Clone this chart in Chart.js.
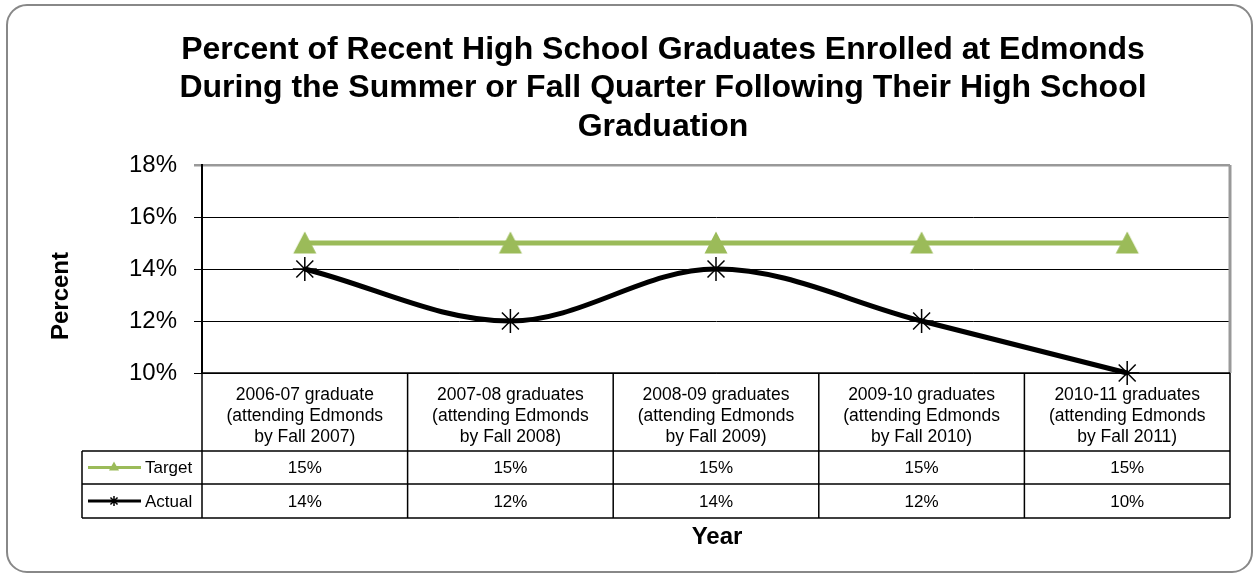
<!DOCTYPE html>
<html>
<head>
<meta charset="utf-8">
<script src="https://cdn.jsdelivr.net/npm/chart.js@4.4.1/dist/chart.umd.min.js"></script>
<style>
    html, body { margin: 0; padding: 0; background: #fff; }
    #chart { display: block; }
</style>
</head>
<body>
<canvas id="chart" width="1257" height="577"></canvas>
<script>
const categories = [
    ['2006-07 graduate', '(attending Edmonds', 'by Fall 2007)'],
    ['2007-08 graduates', '(attending Edmonds', 'by Fall 2008)'],
    ['2008-09 graduates', '(attending Edmonds', 'by Fall 2009)'],
    ['2009-10 graduates', '(attending Edmonds', 'by Fall 2010)'],
    ['2010-11 graduates', '(attending Edmonds', 'by Fall 2011)']
];
const targetValues = [15, 15, 15, 15, 15];
const actualValues = [14, 12, 14, 12, 10];
const yTicks = [10, 12, 14, 16, 18];
const titleLines = [
    'Percent of Recent High School Graduates Enrolled at Edmonds',
    'During the Summer or Fall Quarter Following Their High School',
    'Graduation'
];

const FONT = '"Liberation Sans", Arial, sans-serif';
const GREEN = '#9bbb59';

// triangle marker, sitting a bit lower than chart.js's own
const tri = document.createElement('canvas');
tri.width = 28;
tri.height = 28;
const tctx = tri.getContext('2d');
tctx.fillStyle = GREEN;
tctx.beginPath();
tctx.moveTo(14, 2.5);
tctx.lineTo(25.5, 24.5);
tctx.lineTo(2.5, 24.5);
tctx.closePath();
tctx.fill();

// Frame, titles and the data table under the plot
const tablePlugin = {
    id: 'tablePlugin',
    beforeDraw(chart) {
        const c = chart.ctx;
        c.save();
        c.fillStyle = '#fff';
        c.fillRect(0, 0, chart.width, chart.height);
        c.strokeStyle = '#888';
        c.lineWidth = 2;
        c.beginPath();
        c.roundRect(7, 5, 1245, 567, 20);
        c.stroke();
        c.restore();
    },
    afterDraw(chart) {
        const c = chart.ctx;
        const area = chart.chartArea;
        const x = chart.scales.x;
        const half = (x.getPixelForValue(1) - x.getPixelForValue(0)) / 2;
        const rowTop = 451, rowMid = 484, rowBot = 518, legLeft = 82;

        c.save();
        // right plot border
        c.strokeStyle = '#999';
        c.lineWidth = 3;
        c.beginPath();
        c.moveTo(area.right, area.top);
        c.lineTo(area.right, area.bottom);
        c.stroke();

        // table lines
        c.strokeStyle = '#000';
        c.lineWidth = 1.5;
        c.beginPath();
        c.moveTo(area.left, area.bottom);
        c.lineTo(area.right, area.bottom);
        [rowTop, rowMid, rowBot].forEach(y => {
            c.moveTo(legLeft, y);
            c.lineTo(area.right, y);
        });
        c.moveTo(legLeft, rowTop);
        c.lineTo(legLeft, rowBot);
        c.moveTo(area.left, area.bottom);
        c.lineTo(area.left, rowBot);
        categories.forEach((_, i) => {
            const xr = x.getPixelForValue(i) + half;
            c.moveTo(xr, area.bottom);
            c.lineTo(xr, rowBot);
        });
        c.stroke();

        // values
        c.fillStyle = '#000';
        c.font = '17px ' + FONT;
        c.textAlign = 'center';
        c.textBaseline = 'middle';
        targetValues.forEach((v, i) => c.fillText(v + '%', x.getPixelForValue(i), (rowTop + rowMid) / 2 + 1));
        actualValues.forEach((v, i) => c.fillText(v + '%', x.getPixelForValue(i), (rowMid + rowBot) / 2 + 1));

        // legend keys
        c.textAlign = 'left';
        c.fillText('Target', 145, (rowTop + rowMid) / 2 + 1);
        c.fillText('Actual', 145, (rowMid + rowBot) / 2 + 1);
        let y1 = (rowTop + rowMid) / 2;
        c.strokeStyle = GREEN;
        c.lineWidth = 3;
        c.beginPath();
        c.moveTo(88, y1);
        c.lineTo(141, y1);
        c.stroke();
        c.fillStyle = GREEN;
        c.beginPath();
        c.moveTo(114, y1 - 6);
        c.lineTo(119, y1 + 3);
        c.lineTo(109, y1 + 3);
        c.closePath();
        c.fill();
        let y2 = (rowMid + rowBot) / 2;
        c.strokeStyle = '#000';
        c.beginPath();
        c.moveTo(88, y2);
        c.lineTo(141, y2);
        c.stroke();
        c.lineWidth = 1.5;
        c.beginPath();
        for (let k = 0; k < 4; k++) {
            const a = k * Math.PI / 4;
            c.moveTo(114 - 5 * Math.cos(a), y2 - 5 * Math.sin(a));
            c.lineTo(114 + 5 * Math.cos(a), y2 + 5 * Math.sin(a));
        }
        c.stroke();

        // titles
        c.fillStyle = '#000';
        c.textAlign = 'center';
        c.font = 'bold 32px ' + FONT;
        titleLines.forEach((t, i) => c.fillText(t, 663, 50 + i * 38.5));
        c.font = 'bold 24px ' + FONT;
        c.fillText('Year', 717, 537);
        c.translate(61, 296);
        c.rotate(-Math.PI / 2);
        c.fillText('Percent', 0, 0);
        c.restore();
    }
};

new Chart(document.getElementById('chart'), {
    type: 'line',
    data: {
        labels: categories,
        datasets: [{
            label: 'Target',
            data: targetValues,
            borderColor: GREEN,
            backgroundColor: GREEN,
            borderWidth: 5,
            pointStyle: tri,
            pointRadius: 14,
            pointBorderWidth: 0,
            tension: 0,
            clip: false
        }, {
            label: 'Actual',
            data: actualValues,
            borderColor: '#000',
            backgroundColor: '#000',
            borderWidth: 5,
            pointStyle: 'star',
            pointRadius: 12,
            pointBorderWidth: 1.5,
            tension: 0.35,
            clip: false
        }]
    },
    options: {
        responsive: false,
        animation: false,
        layout: { padding: { left: 0, top: 165, right: 27, bottom: 0 } },
        plugins: {
            legend: { display: false },
            tooltip: { enabled: false }
        },
        scales: {
            x: {
                offset: true,
                grid: { display: false },
                border: { display: false },
                ticks: {
                    color: '#000',
                    font: { family: FONT, size: 17.5, lineHeight: 1.2 },
                    padding: 4,
                    maxRotation: 0,
                    autoSkip: false
                },
                afterFit(scale) { scale.height = 204; }
            },
            y: {
                min: 10,
                max: 18,
                afterBuildTicks(scale) { scale.ticks = yTicks.map(v => ({ value: v })); },
                grid: {
                    color: ctx => ctx.tick && ctx.tick.value === 18 ? '#999' : '#000',
                    lineWidth: ctx => ctx.tick && ctx.tick.value === 18 ? 2.5 : 1,
                    tickLength: 8
                },
                border: { color: '#000', width: 2 },
                ticks: {
                    color: '#000',
                    font: { family: FONT, size: 24 },
                    padding: 17,
                    callback: v => v + '%'
                },
                afterFit(scale) { scale.width = 202; }
            }
        }
    },
    plugins: [tablePlugin]
});
</script>
</body>
</html>
